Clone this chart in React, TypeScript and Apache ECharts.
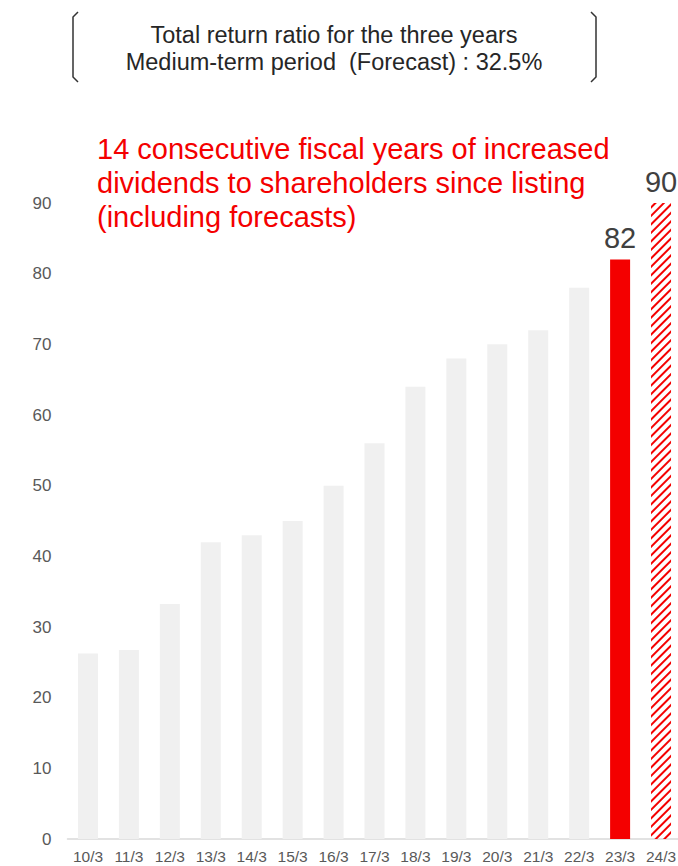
import React, { useEffect, useRef } from "react";
import * as echarts from "echarts";

const categories = ["10/3", "11/3", "12/3", "13/3", "14/3", "15/3", "16/3", "17/3", "18/3", "19/3", "20/3", "21/3", "22/3", "23/3", "24/3"];
const dividends = [26.25, 26.75, 33.25, 42, 43, 45, 50, 56, 64, 68, 70, 72, 78, 82, 90];
const yTicks = { min: 0, max: 90, interval: 10 };
const headerLines = ["Total return ratio for the three years", "Medium-term period  (Forecast) : 32.5%"];
const noteLines = ["14 consecutive fiscal years of increased", "dividends to shareholders since listing", "(including forecasts)"];
const highlightIndex = 13;
const forecastIndex = 14;

const FONT = "'Liberation Sans', Arial, sans-serif";

export default function App() {
  const ref = useRef<HTMLDivElement>(null);
  useEffect(() => {
    if (!ref.current) return;
    const chart = echarts.init(ref.current, null, { renderer: "svg" });
    const data = dividends.map((v, i) => {
      if (i === highlightIndex) {
        return {
          value: v,
          itemStyle: { color: "#f40000" },
          label: { show: true },
        };
      }
      if (i === forecastIndex) {
        return {
          value: v,
          itemStyle: {
            color: "rgba(255,255,255,0)",
            decal: {
              symbol: "rect",
              symbolSize: 1,
              color: "#f40000",
              dashArrayX: [1, 0],
              dashArrayY: [1.4, 3.4],
              rotation: -Math.PI / 4,
            },
          },
          label: { show: true },
        };
      }
      return { value: v, itemStyle: { color: "#f0f0f0" } };
    });

    chart.setOption({
      animation: false,
      backgroundColor: "#ffffff",
      grid: { left: 67.5, top: 203, bottom: 27, width: 614, outerBoundsMode: "none" },
      xAxis: {
        type: "category",
        data: categories,
        axisLine: { show: true, lineStyle: { color: "#d9d9d9", width: 1.5 } },
        axisTick: { show: false },
        axisLabel: { color: "#595959", fontSize: 15.5, fontFamily: FONT, margin: 9, interval: 0 },
      },
      yAxis: {
        type: "value",
        min: yTicks.min,
        max: yTicks.max,
        interval: yTicks.interval,
        splitLine: { show: false },
        axisLine: { show: false },
        axisTick: { show: false },
        axisLabel: { color: "#595959", fontSize: 17, fontFamily: FONT, margin: 16 },
      },
      series: [
        {
          type: "bar",
          data,
          barWidth: 20,
          label: {
            show: false,
            position: "top",
            distance: 7,
            color: "#404040",
            fontSize: 29,
            fontFamily: FONT,
          },
        },
      ],
      graphic: [
        {
          type: "text",
          x: 334,
          y: 21,
          style: {
            text: headerLines.join("\n"),
            fill: "#262626",
            fontSize: 23.5,
            fontFamily: FONT,
            lineHeight: 27,
            align: "center",
            verticalAlign: "top",
          },
        },
        {
          type: "polyline",
          shape: { points: [[78, 12], [73, 17], [73, 77], [78, 82]] },
          style: { stroke: "#333333", lineWidth: 1.5, fill: "none" },
        },
        {
          type: "polyline",
          shape: { points: [[591, 12], [596, 17], [596, 77], [591, 82]] },
          style: { stroke: "#333333", lineWidth: 1.5, fill: "none" },
        },
        {
          type: "text",
          x: 97,
          y: 132,
          style: {
            text: noteLines.join("\n"),
            fill: "#f40000",
            fontSize: 29,
            fontFamily: FONT,
            lineHeight: 34,
            verticalAlign: "top",
          },
        },
      ],
    });
    return () => chart.dispose();
  }, []);
  return <div ref={ref} style={{ position: "absolute", left: 0, top: 0, width: 678, height: 866 }} />;
}
